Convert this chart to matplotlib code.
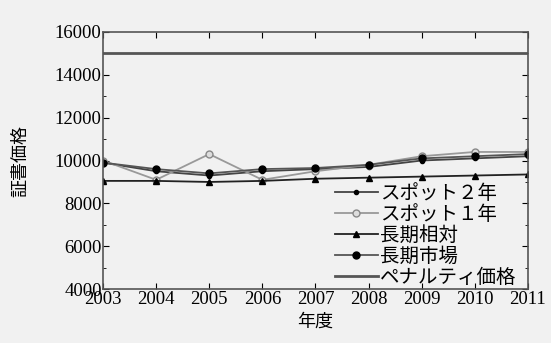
import matplotlib.pyplot as plt
from matplotlib.ticker import MultipleLocator

years = [2003, 2004, 2005, 2006, 2007, 2008, 2009, 2010, 2011]
spot2 = [9900, 9500, 9300, 9500, 9600, 9700, 10000, 10100, 10200]
spot1 = [10000, 9100, 10300, 9100, 9500, 9800, 10200, 10400, 10400]
long_rel = [9050, 9050, 9000, 9050, 9150, 9200, 9250, 9300, 9350]
long_mkt = [9900, 9600, 9400, 9600, 9650, 9800, 10100, 10200, 10300]
penalty = [15000] * 9

labels = ['スポット２年', 'スポット１年', '長期相対', '長期市場', 'ペナルティ価格']

plt.rcParams['font.family'] = ['Liberation Serif', 'Noto Sans CJK JP']
bg = '#f1f1f1'

fig = plt.figure(figsize=(5.51, 3.43), dpi=100, facecolor=bg)
ax = fig.add_axes([0.187, 0.157, 0.771, 0.75], facecolor=bg)

ax.plot(years, spot2, color='#444444', lw=1.3, marker='o', ms=3, mfc='black', mec='black', label=labels[0])
ax.plot(years, spot1, color='#999999', lw=1.3, marker='o', ms=5, mfc='#dddddd', mec='#888888', label=labels[1])
ax.plot(years, long_rel, color='#222222', lw=1.3, marker='^', ms=4, mfc='black', mec='black', label=labels[2])
ax.plot(years, long_mkt, color='#555555', lw=1.3, marker='o', ms=5, mfc='black', mec='black', label=labels[3])
ax.plot(years, penalty, color='#555555', lw=2.0, label=labels[4])

ax.set_xlim(2003, 2011)
ax.set_ylim(4000, 16000)
ax.set_xticks(years)
ax.yaxis.set_major_locator(MultipleLocator(2000))
ax.yaxis.set_minor_locator(MultipleLocator(1000))
ax.tick_params(direction='in', top=True, right=True, labelsize=13.5, length=4, pad=1)
ax.tick_params(which='minor', direction='in', right=True, length=2)
for s in ax.spines.values():
    s.set_color('#555555')
    s.set_linewidth(1.2)

ax.set_xlabel('年度', fontsize=13, family=['Noto Sans CJK JP'], labelpad=4)
ax.set_ylabel('証書価格', fontsize=13, family=['Noto Sans CJK JP'], labelpad=18)

ax.legend(loc='lower right', bbox_to_anchor=(1.0, -0.04), frameon=False,
          prop={'family': ['Noto Sans CJK JP'], 'size': 14},
          handlelength=2.2, handletextpad=0.1, labelspacing=0.0, borderpad=0.1)

fig.savefig('out.png', dpi=100, facecolor=bg)
